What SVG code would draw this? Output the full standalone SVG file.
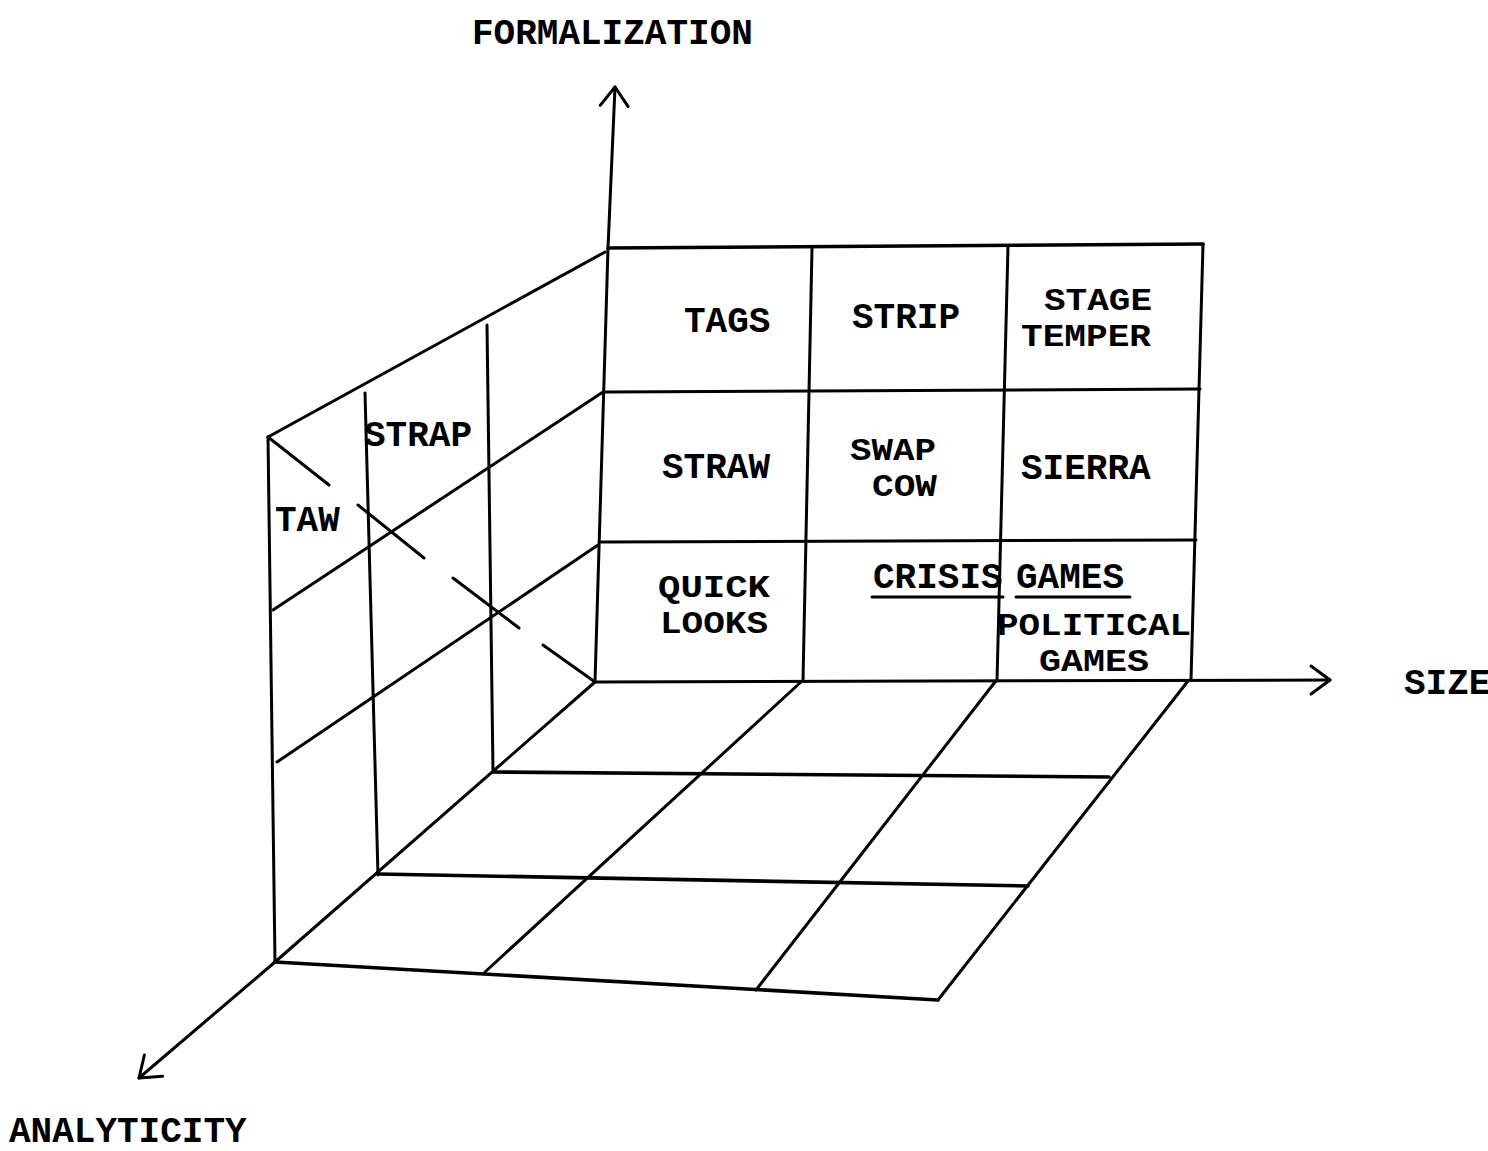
<svg xmlns="http://www.w3.org/2000/svg" width="1488" height="1151" viewBox="0 0 1488 1151">
<style>
  .ln { stroke: #000; stroke-width: 3; fill: none; stroke-linecap: round; stroke-linejoin: round; }
  .thk { stroke-width: 3.6; }
  .lbl { font-family: "Liberation Mono", "DejaVu Sans Mono", monospace; font-weight: bold; font-size: 36px; fill: #000; }
  .stk { font-size: 31px; }
</style>
<defs>
  <marker id="arrow" markerUnits="userSpaceOnUse" viewBox="-24 -18 28 36" markerWidth="28" markerHeight="36" refX="0" refY="0" orient="auto">
    <path d="M -19 -14 L 0 0 L -19 14" fill="none" stroke="#000" stroke-width="3" stroke-linecap="round" stroke-linejoin="round"/>
  </marker>
</defs>
<rect width="1488" height="1151" fill="#fff"/>

<g id="connectors">
  <g id="axis-formalization">
    <polyline class="ln" points="595,682 608,248 615,87" marker-end="url(#arrow)"/>
  </g>
  <g id="axis-size">
    <line class="ln" x1="595" y1="682" x2="1330" y2="680" marker-end="url(#arrow)"/>
  </g>
  <g id="axis-analyticity">
    <line class="ln" x1="275" y1="962" x2="139" y2="1078" marker-end="url(#arrow)"/>
  </g>
  <g id="hidden-axis">
    <line class="ln" x1="268" y1="437" x2="329" y2="485"/>
    <line class="ln" x1="358" y1="505" x2="424" y2="558"/>
    <line class="ln" x1="453" y1="578" x2="519" y2="628"/>
    <line class="ln" x1="543" y1="645" x2="595" y2="682"/>
  </g>
</g>

<g id="back-wall">
  <line class="ln thk" x1="608" y1="248" x2="1203" y2="244"/>
  <line class="ln" x1="606" y1="392" x2="1200" y2="389"/>
  <line class="ln" x1="601" y1="542" x2="1196" y2="540"/>
  <line class="ln" x1="812" y1="248" x2="803" y2="681"/>
  <line class="ln" x1="1008" y1="246" x2="997" y2="681"/>
  <line class="ln" x1="1203" y1="244" x2="1191" y2="680"/>
</g>

<g id="left-wall">
  <line class="ln" x1="268" y1="437" x2="605" y2="252"/>
  <line class="ln" x1="273" y1="610" x2="603" y2="392"/>
  <line class="ln" x1="277" y1="762" x2="598" y2="545"/>
  <line class="ln" x1="268" y1="437" x2="275" y2="962"/>
  <line class="ln" x1="365" y1="393" x2="378" y2="875"/>
  <line class="ln" x1="487" y1="325" x2="493" y2="772"/>
</g>

<g id="floor">
  <line class="ln thk" x1="493" y1="772" x2="1109" y2="777"/>
  <line class="ln thk" x1="378" y1="874" x2="1028" y2="886"/>
  <line class="ln thk" x1="275" y1="962" x2="938" y2="1000"/>
  <line class="ln" x1="595" y1="682" x2="275" y2="962"/>
  <line class="ln" x1="801" y1="682" x2="485" y2="972"/>
  <line class="ln" x1="995" y1="682" x2="756" y2="990"/>
  <line class="ln" x1="1188" y1="681" x2="938" y2="1000"/>
</g>

<g id="labels">
  <text id="lbl-formalization" class="lbl" x="472" y="44">FORMALIZATION</text>
  <text id="lbl-size" class="lbl" x="1404" y="694">SIZE</text>
  <text id="lbl-analyticity" class="lbl" x="9" y="1142">ANALYTICITY</text>
</g>

<g id="node-tags"><text class="lbl" x="684" y="332">TAGS</text></g>
<g id="node-strip"><text class="lbl" x="852" y="328">STRIP</text></g>
<g id="node-stage-temper">
  <text class="lbl stk" x="1044" y="310" textLength="108" lengthAdjust="spacingAndGlyphs">STAGE</text>
  <text class="lbl stk" x="1021" y="346" textLength="130" lengthAdjust="spacingAndGlyphs">TEMPER</text>
</g>
<g id="node-strap"><text class="lbl" x="364" y="446">STRAP</text></g>
<g id="node-taw"><text class="lbl" x="275" y="531">TAW</text></g>
<g id="node-straw"><text class="lbl" x="662" y="478">STRAW</text></g>
<g id="node-swap-cow">
  <text class="lbl stk" x="850" y="460" textLength="86" lengthAdjust="spacingAndGlyphs">SWAP</text>
  <text class="lbl stk" x="872" y="496" textLength="65" lengthAdjust="spacingAndGlyphs">COW</text>
</g>
<g id="node-sierra"><text class="lbl" x="1021" y="479">SIERRA</text></g>
<g id="node-quick-looks">
  <text class="lbl stk" x="658" y="597" textLength="112" lengthAdjust="spacingAndGlyphs">QUICK</text>
  <text class="lbl stk" x="660" y="633" textLength="108" lengthAdjust="spacingAndGlyphs">LOOKS</text>
</g>
<g id="node-crisis-games">
  <text class="lbl" x="873" y="588">CRISIS</text>
  <text class="lbl" x="1016" y="588">GAMES</text>
  <line class="ln" x1="872" y1="597" x2="1003" y2="597"/>
  <line class="ln" x1="1016" y1="597" x2="1130" y2="597"/>
</g>
<g id="node-political-games">
  <text class="lbl stk" x="997" y="635" textLength="194" lengthAdjust="spacingAndGlyphs">POLITICAL</text>
  <text class="lbl stk" x="1039" y="671" textLength="110" lengthAdjust="spacingAndGlyphs">GAMES</text>
</g>
</svg>
